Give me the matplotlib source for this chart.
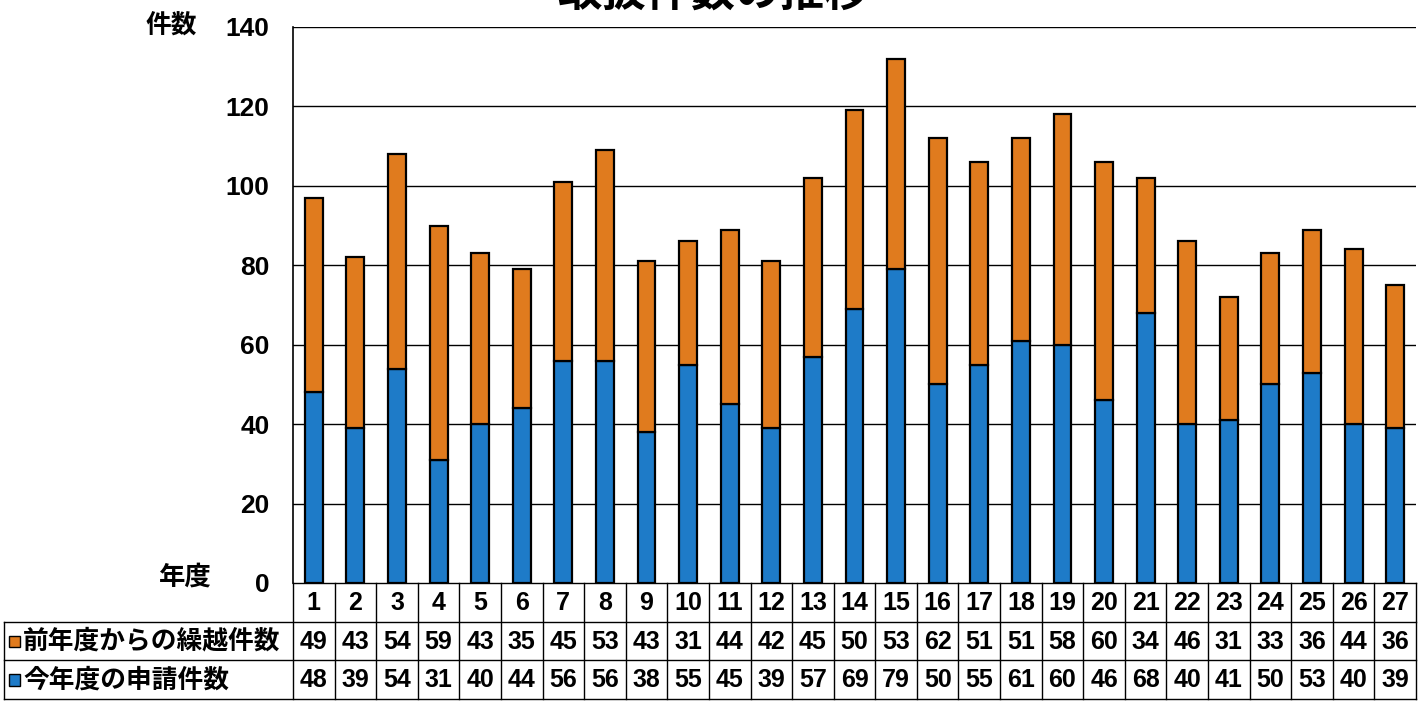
import matplotlib
matplotlib.use("Agg")
import matplotlib.pyplot as plt
from matplotlib.patches import Rectangle

plt.rcParams['font.family'] = ['Liberation Sans', 'Noto Sans CJK JP', 'DejaVu Sans']
plt.rcParams['font.weight'] = 'bold'

years = list(range(1, 28))
carry_over = [49, 43, 54, 59, 43, 35, 45, 53, 43, 31, 44, 42, 45, 50, 53,
              62, 51, 51, 58, 60, 34, 46, 31, 33, 36, 44, 36]
new_apps = [48, 39, 54, 31, 40, 44, 56, 56, 38, 55, 45, 39, 57, 69, 79,
            50, 55, 61, 60, 46, 68, 40, 41, 50, 53, 40, 39]
series_labels = ['前年度からの繰越件数', '今年度の申請件数']
yticks = [0, 20, 40, 60, 80, 100, 120, 140]

c_orange = '#E07B1E'
c_blue = '#1E7BC8'
jp = ['Noto Sans CJK JP', 'DejaVu Sans']

W, H = 1426, 701
fig = plt.figure(figsize=(W / 100, H / 100), dpi=100)

def px(x0, y0, x1, y1):
    # pixel box (top-left origin) -> figure fraction rect
    return [x0 / W, 1 - y1 / H, (x1 - x0) / W, (y1 - y0) / H]

ax = fig.add_axes(px(293, 27, 1416, 583))
x = list(range(len(years)))
ax.bar(x, new_apps, width=0.43, color=c_blue, edgecolor='black', linewidth=1.6, zorder=3)
ax.bar(x, carry_over, bottom=new_apps, width=0.43, color=c_orange,
       edgecolor='black', linewidth=1.6, zorder=3)
ax.set_xlim(-0.5, len(years) - 0.5)
ax.set_ylim(0, 140)
ax.set_yticks(yticks)
ax.set_yticklabels([str(v) for v in yticks], fontsize=19, fontweight='bold')
ax.tick_params(axis='y', length=0, pad=17)
ax.set_xticks([])
for v in yticks[1:]:
    ax.axhline(v, color='black', linewidth=1.0, zorder=1)
for s in ['top', 'right', 'bottom']:
    ax.spines[s].set_visible(False)
ax.spines['left'].set_linewidth(1.2)

fig.text(197 / W, 1 - 26 / H, '件数', ha='right', va='center', fontsize=18.5,
         family=jp, fontweight='bold')
fig.text(212 / W, 1 - 577 / H, '年度', ha='right', va='center', fontsize=19,
         family=jp, fontweight='bold')
fig.text(713 / W, 1 + 6 / H, '取扱件数の推移', ha='center', va='center', fontsize=32,
         family=jp, fontweight='bold')

# data table under the plot
tb = fig.add_axes(px(293, 583, 1416, 701))
tb.set_xlim(-0.5, len(years) - 0.5)
tb.set_ylim(3.05, 0)
tb.axis('off')
unit = 1123 / len(years)
left = -0.5 - 289 / unit
lw = 1.0
# horizontal lines
tb.plot([-0.5, len(years) - 0.5], [0, 0], color='black', lw=lw, clip_on=False)
for r in [1, 2, 3]:
    tb.plot([left, len(years) - 0.5], [r, r], color='black', lw=lw, clip_on=False)
# vertical lines
for i in range(len(years) + 1):
    tb.plot([i - 0.5, i - 0.5], [0, 3], color='black', lw=lw, clip_on=False)
tb.plot([left, left], [1, 3], color='black', lw=lw, clip_on=False)

for i, yv in enumerate(years):
    tb.text(i, 0.52, str(yv), ha='center', va='center', fontsize=18, fontweight='bold')
    tb.text(i, 1.52, str(carry_over[i]), ha='center', va='center', fontsize=18, fontweight='bold')
    tb.text(i, 2.52, str(new_apps[i]), ha='center', va='center', fontsize=18, fontweight='bold')

for r, (lab, col) in enumerate(zip(series_labels, [c_orange, c_blue])):
    sq_x = left + 5 / unit
    tb.add_patch(Rectangle((sq_x, r + 1.36), 11 / unit, 0.3, facecolor=col,
                           edgecolor='black', lw=1.0, clip_on=False))
    tb.text(left + 19 / unit, r + 1.5, lab, ha='left', va='center', fontsize=18.5,
            family=jp, fontweight='bold')

fig.savefig('out.png', dpi=100)
